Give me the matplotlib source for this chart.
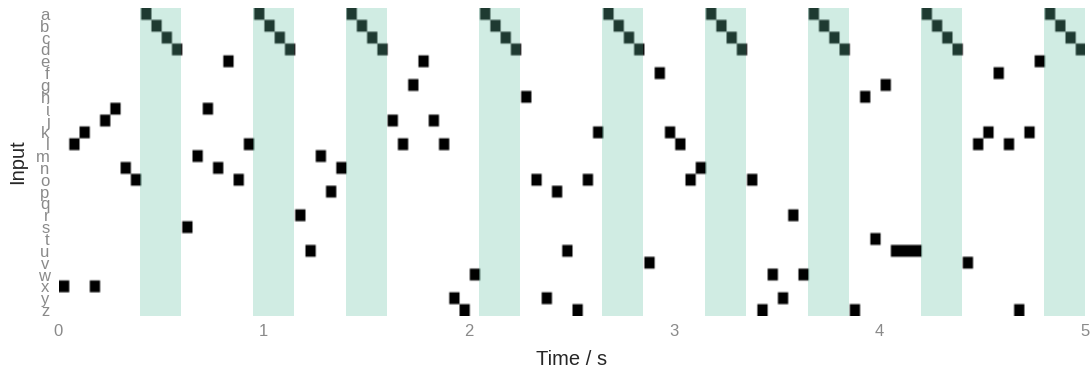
import numpy as np
import matplotlib
matplotlib.use("Agg")
import matplotlib.pyplot as plt

'''
Data:
'''
letters = list("abcdefghijklmnopqrstuvwxyz")
bin_width = 0.05  # s
# active input letter in each 50 ms bin
sequence = list("xlkxjino") + list("abcd") + list("smineol") + list("abcd") + \
    list("rumpn") + list("abcd") + list("jlgejlyzw") + list("abcd") + \
    list("hoypuzok") + list("abcd") + list("vfklon") + list("abcd") + \
    list("ozwyrw") + list("abcd") + list("zhtguuu") + list("abcd") + \
    list("vlkflzke") + list("abcd")
span_starts = [0.4, 0.95, 1.4, 2.05, 2.65, 3.15, 3.65, 4.2, 4.8]
span_len = 0.2

'''
Build image:
'''
sub = 5
n_bins = len(sequence)
img = np.zeros((len(letters), n_bins))
for i, ch in enumerate(sequence):
    img[letters.index(ch), i] = 1.0
img = np.repeat(np.repeat(img, sub, axis=1), sub, axis=0)
t_end = n_bins * bin_width
dt = bin_width / sub

'''
Plot:
'''
plt.rcParams['font.family'] = ['Liberation Sans', 'DejaVu Sans']
fig = plt.figure(figsize=(10.91, 3.69), dpi=100)
ax = fig.add_axes([58/1091, 1-316/369, (1085-58)/1091, (316-8)/369])

# small shift so the smoothing trails to the right like the original
ax.imshow(img, cmap="gray_r", aspect="auto", interpolation="bilinear",
          extent=(dt * 0.5, t_end + dt * 0.5, len(letters) - 0.5, -0.5),
          vmin=0, vmax=1)
for s in span_starts:
    ax.axvspan(s, s + span_len, color="#66c2a5", alpha=0.3, lw=0)

ax.set_xlim(0, t_end)
ax.set_ylim(len(letters) - 0.5, -0.5)
ax.set_yticks(range(len(letters)))
ax.set_yticklabels(letters)
ax.set_xticks([0, 1, 2, 3, 4, 5])
ax.tick_params(length=0, labelsize=12, colors="#8a8a8a", pad=6)
for sp in ax.spines.values():
    sp.set_visible(False)

ax.set_xlabel("Time / s", fontsize=14.5, color="#262626", labelpad=8)
ax.set_ylabel("Input", fontsize=14.5, color="#262626", labelpad=6)

fig.savefig("out.png", dpi=100)
